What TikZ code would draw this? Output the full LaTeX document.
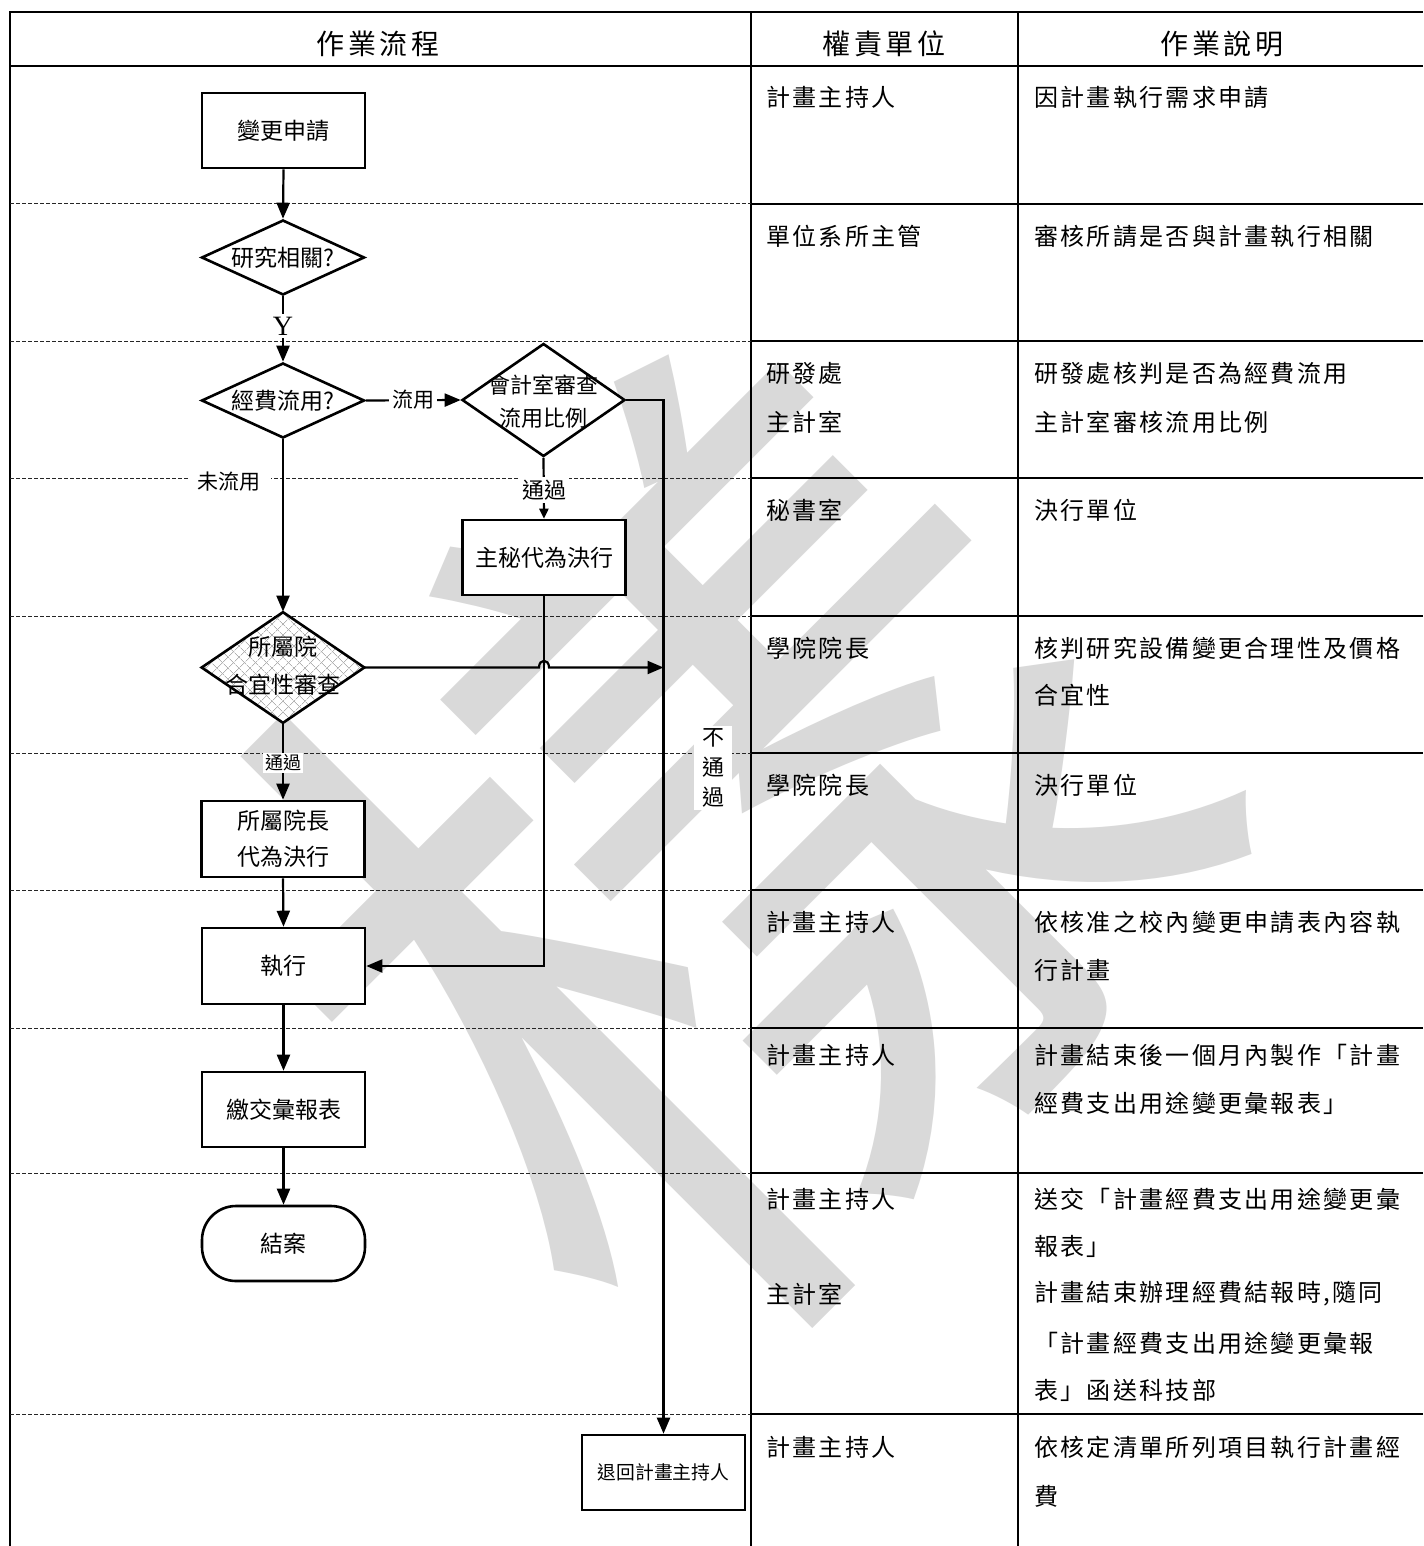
\documentclass[tikz,border=0pt]{standalone}
\usepackage{fontspec}
\setmainfont{Liberation Serif}
\newfontfamily\cjk{Noto Sans CJK TC}
\newfontfamily\cjkls[LetterSpace=9.5]{Noto Sans CJK TC}
\newfontfamily\cjkhd[LetterSpace=12]{Noto Sans CJK TC}
\usetikzlibrary{shapes.geometric,arrows.meta,patterns.meta,calc}
\begin{document}
\begin{tikzpicture}[x=0.5pt,y=-0.5pt,
  tline/.style={line width=1.3pt},
  dline/.style={line width=0.5pt, dash pattern=on 2pt off 1pt, black!85},
  conn/.style={line width=1.1pt, -{Triangle[length=8pt,width=6.5pt]}},
  sconn/.style={line width=1.1pt, -{Triangle[length=5pt,width=4.5pt]}},
  box/.style={draw, line width=1.3pt, fill=white, minimum width=81.5pt, minimum height=37.5pt, inner sep=0pt, font=\cjk\fontsize{11.5}{18}\selectfont, align=center},
  diabase/.style={draw, diamond, line width=1.3pt, inner sep=0pt, minimum width=81.5pt, minimum height=37.5pt},
  dia/.style={diabase, fill=white},
  ftxt/.style={inner sep=0pt, font=\cjk\fontsize{11.5}{18}\selectfont, align=center},
  lbl/.style={fill=white, inner sep=1.5pt, font=\cjk\fontsize{10.5}{15}\selectfont, align=center},
  ttxt/.style={anchor=west, inner sep=0pt, font=\cjkls\fontsize{12}{24}\selectfont},
  htxt/.style={inner sep=0pt, font=\cjkhd\fontsize{14}{16}\selectfont},
  wm/.style={text=black!15, inner sep=0pt}
]
\useasboundingbox (0,0) rectangle (1423,1546);
\fill[white] (0,0) rectangle (1423,1546);

% watermark
\node[wm, rotate=45, font=\cjk\fontsize{440}{440}\selectfont] (wmark) at (718,852) {樣};

% table frame
\draw[tline] (10,1546) -- (10,12) -- (1423,12);
\draw[tline] (10,66) -- (1423,66);
\draw[tline] (751,12) -- (751,1546);
\draw[tline] (1018,12) -- (1018,1546);
\foreach \yy in {204,341,478,616,753,890,1028,1173,1414}{
  \draw[dline] (10,\yy) -- (751,\yy);
  \draw[tline] (751,\yy) -- (1423,\yy);
}

% header
\node[htxt] (h1) at (378,44) {作業流程};
\node[htxt] (h2) at (884,44) {權責單位};
\node[htxt] (h3) at (1222,44) {作業說明};

% flow nodes
\node[box] (apply) at (283.5,130.5) {變更申請};
\node[dia] (d1) at (283,257.5) {};
\node[ftxt] (d1t) at (283,257.5) {研究相關?};
\node[dia] (d2) at (283,400.5) {};
\node[ftxt] (d2t) at (283,400.5) {經費流用?};
\node[dia, minimum height=56.5pt] (d3) at (543.5,400) {};
\node[ftxt, font=\cjk\fontsize{11}{16.5}\selectfont] (d3t) at (543.5,401.5) {會計室審查\\流用比例};
\node[box] (sec) at (544,557.5) {主秘代為決行};
\node[diabase, minimum height=55.5pt, preaction={fill=white},
      preaction={pattern={Lines[angle=45,distance=4pt,line width=0.4pt]}, pattern color=black!30},
      pattern={Lines[angle=-45,distance=4pt,line width=0.4pt]}, pattern color=black!30] (d4) at (283,667.5) {};
\node[ftxt, font=\cjk\fontsize{11.5}{19}\selectfont] (d4t) at (283,666) {所屬院\\合宜性審查};
\node[box, minimum height=38pt] (dean) at (283,839) {所屬院長\\代為決行};
\node[box, minimum height=38pt] (exec) at (283.5,966) {執行};
\node[box] (report) at (283.5,1109.5) {繳交彙報表};
\node[box, rounded corners=17pt] (end) at (283.5,1243.5) {結案};
\node[box, font=\cjk\fontsize{9.4}{12}\selectfont] (ret) at (663.5,1472.5) {退回計畫主持人};

% connectors
\draw[conn] (apply.south) -- (d1.north);
\draw[conn] (d1.south) -- (d2.north);
\draw[conn] (d2.east) -- (d3.west);
\draw[conn] (d2.south) -- (d4.north);
\draw[sconn] (d3.south) -- (sec.north);
\draw[conn] (d3.east) -- (d3.east -| ret.north) -- (ret.north);
\draw[conn] (sec.south) |- (exec.east);
\coordinate (hop) at (sec.south |- d4.east);
\draw[conn] (d4.east) -- ($(hop)+(-5,0)$) .. controls ($(hop)+(-5,-9)$) and ($(hop)+(5,-9)$) .. ($(hop)+(5,0)$) -- (d4.east -| ret.north);
\draw[conn] (d4.south) -- (dean.north);
\draw[conn] (dean.south) -- (exec.north);
\draw[conn] (exec.south) -- (report.north);
\draw[conn] (report.south) -- (end.north);

% flow labels
\node[fill=white, inner sep=1.5pt, font=\fontsize{14}{16}\selectfont] (ylab) at (283,326) {Y};
\node[lbl] (l1) at (413,400) {流用};
\node[lbl, inner xsep=5pt] (l2) at (229,482) {未流用};
\node[lbl, font=\cjk\fontsize{11}{15}\selectfont] (l3) at (544,490) {通過};
\node[lbl, font=\cjk\fontsize{9}{12}\selectfont, inner sep=1pt] (l4) at (283,763) {通過};
\node[lbl, font=\cjk\fontsize{11}{15}\selectfont, inner xsep=4pt] (l5) at (713,768) {不\\通\\過};

% column 2 texts
\node[ttxt] (a1) at (766,97) {計畫主持人};
\node[ttxt] (a2) at (766,236) {單位系所主管};
\node[ttxt] (a3) at (766,373) {研發處};
\node[ttxt] (a3b) at (766,422) {主計室};
\node[ttxt] (a4) at (766,510) {秘書室};
\node[ttxt] (a5) at (766,648) {學院院長};
\node[ttxt] (a6) at (766,785) {學院院長};
\node[ttxt] (a7) at (766,922) {計畫主持人};
\node[ttxt] (a8) at (766,1055) {計畫主持人};
\node[ttxt] (a9) at (766,1199) {計畫主持人};
\node[ttxt] (a9b) at (766,1294) {主計室};
\node[ttxt] (a10) at (766,1447) {計畫主持人};

% column 3 texts
\node[ttxt] (b1) at (1034,97) {因計畫執行需求申請};
\node[ttxt] (b2) at (1034,236) {審核所請是否與計畫執行相關};
\node[ttxt] (b3) at (1034,373) {研發處核判是否為經費流用};
\node[ttxt] (b3b) at (1034,422) {主計室審核流用比例};
\node[ttxt] (b4) at (1034,510) {決行單位};
\node[ttxt] (b5) at (1034,648) {核判研究設備變更合理性及價格};
\node[ttxt] (b5b) at (1034,695) {合宜性};
\node[ttxt] (b6) at (1034,785) {決行單位};
\node[ttxt] (b7) at (1034,922) {依核准之校內變更申請表內容執};
\node[ttxt] (b7b) at (1034,970) {行計畫};
\node[ttxt] (b8) at (1034,1055) {計畫結束後一個月內製作「計畫};
\node[ttxt] (b8b) at (1034,1103) {經費支出用途變更彙報表」};
\node[ttxt] (b9) at (1034,1199) {送交「計畫經費支出用途變更彙};
\node[ttxt] (b9b) at (1034,1246) {報表」};
\node[ttxt] (b9c) at (1034,1294) {計畫結束辦理經費結報時,隨同};
\node[ttxt] (b9d) at (1034,1343) {「計畫經費支出用途變更彙報};
\node[ttxt] (b9e) at (1034,1390) {表」函送科技部};
\node[ttxt] (b10) at (1034,1447) {依核定清單所列項目執行計畫經};
\node[ttxt] (b10b) at (1034,1496) {費};
\end{tikzpicture}
\end{document}
